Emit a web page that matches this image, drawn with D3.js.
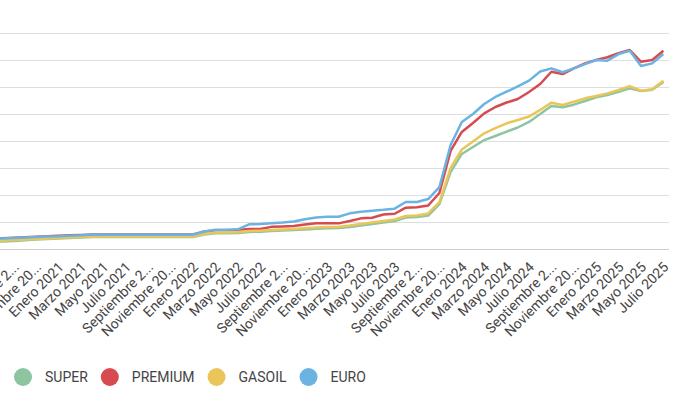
<!DOCTYPE html>
<html>
<head>
<meta charset="utf-8">
<script src="https://cdn.jsdelivr.net/npm/d3@7"></script>
<style>
body { margin: 0; background: #fff; font-family: Roboto, "Noto Sans", sans-serif; overflow: hidden; }
</style>
</head>
<body>
<div id="div_svg"></div>
<script>
// meses: Julio 2020 .. Julio 2025
var nombresMes = ["Enero", "Febrero", "Marzo", "Abril", "Mayo", "Junio", "Julio",
	"Agosto", "Septiembre", "Octubre", "Noviembre", "Diciembre"];
var meses = [];
for (var a = 2020; a <= 2025; a++) {
	for (var m = 0; m < 12; m++) {
		if ((a == 2020 && m < 6) || (a == 2025 && m > 6)) continue;
		meses.push(nombresMes[m] + " " + a);
	}
}

var nombres = ["SUPER", "PREMIUM", "GASOIL", "EURO"];
var colores = ["#8dc5a1", "#d64a50", "#eac65a", "#6bb3e3"];

var superP = [53, 56, 59, 64, 70, 74, 78, 81, 85, 89,
	89, 89, 89, 89, 89, 89, 89, 89, 89,
	107, 116, 116, 119, 126, 128, 133, 137, 141, 144, 150, 153, 156, 163,
	174, 185, 196, 207, 233, 237, 248, 333, 570, 704, 756, 807, 837, 869,
	900, 941, 1000, 1059, 1050, 1069, 1096, 1124, 1141, 1165, 1190, 1170, 1180, 1238];
var premium = [75, 79, 83, 87, 91, 95, 98, 101, 104, 107,
	107, 107, 107, 107, 107, 107, 107, 107, 107,
	130, 138, 138, 140, 148, 148, 164, 167, 170, 181, 190, 190, 190, 207,
	227, 232, 256, 261, 306, 309, 322, 415, 726, 867, 933, 1005, 1052, 1085,
	1111, 1163, 1222, 1313, 1296, 1338, 1375, 1400, 1420, 1450, 1474, 1387, 1400, 1469];
var gasoil = [60, 63, 67, 70, 74, 78, 81, 85, 89, 91,
	93, 93, 93, 93, 93, 93, 93, 93, 93,
	111, 122, 122, 126, 133, 136, 141, 144, 148, 153, 159, 163, 165, 174,
	185, 196, 207, 219, 244, 248, 263, 348, 600, 737, 796, 857, 896, 931,
	956, 981, 1030, 1084, 1067, 1091, 1116, 1133, 1153, 1178, 1207, 1173, 1183, 1247];
var euro = [74, 78, 81, 85, 89, 93, 95, 99, 101, 105,
	106, 106, 106, 106, 106, 106, 106, 106, 106,
	130, 142, 142, 146, 183, 185, 190, 196, 204, 220, 233, 239, 239, 264,
	276, 284, 290, 299, 348, 348, 370, 459, 770, 941, 1000, 1074, 1126, 1165,
	1204, 1247, 1315, 1338, 1309, 1338, 1370, 1400, 1395, 1444, 1469, 1356, 1375, 1444];

var yTicks = [0, 200, 400, 600, 800, 1000, 1200, 1400, 1600];

var valores = [superP, premium, gasoil, euro];

// el area del grafico arranca fuera de la ventana (como en la captura)
var paso = 11.2;
var plotRight = 669;
var plotLeft = plotRight - paso * meses.length;

var svg = d3.select("#div_svg").append("svg").attr("id", "svg")
	.attr("width", 679).attr("height", 394);

var x = d3.scalePoint().domain(meses).range([plotLeft, plotRight]).padding(0.5);
var y = d3.scaleLinear().domain([0, 1600]).range([249, 33]);

// grilla
svg.append("g").selectAll("line").data(yTicks).enter().append("line")
	.attr("x1", Math.max(plotLeft, 0)).attr("x2", plotRight)
	.attr("y1", function(d) { return y(d) + 0.5; })
	.attr("y2", function(d) { return y(d) + 0.5; })
	.style("stroke", function(d) { return d == 0 ? "#cfcfcf" : "#dedede"; })
	.style("stroke-width", 1);

// lineas
var linea = d3.line()
	.x(function(d, i) { return x(meses[i]); })
	.y(function(d) { return y(d); });

svg.append("g").selectAll("path").data(valores).enter().append("path")
	.attr("d", linea)
	.style("fill", "none")
	.style("stroke", function(d, i) { return colores[i]; })
	.style("stroke-width", 2.5)
	.style("stroke-linejoin", "round");

// etiquetas del eje x, cada dos meses
function recortar(s) {
	return s.length > 13 ? s.slice(0, 12) + "..." : s;
}
svg.append("g").selectAll("text")
	.data(meses.filter(function(d, i) { return i % 2 == 0; }))
	.enter().append("text")
	.attr("transform", function(d) { return "translate(" + (x(d) + 6) + ",268) rotate(-45)"; })
	.attr("text-anchor", "end")
	.style("font-size", "14px")
	.style("fill", "#444")
	.text(recortar);

// leyenda
var ley = svg.append("g");
var cx = 23;
nombres.forEach(function(n, i) {
	ley.append("circle").attr("cx", cx).attr("cy", 377).attr("r", 9)
		.style("fill", colores[i]);
	var t = ley.append("text").attr("x", cx + 22).attr("y", 382)
		.style("font-size", "14px").style("fill", "#444").text(n);
	cx = cx + 22 + t.node().getComputedTextLength() + 22;
});
</script>
</body>
</html>
